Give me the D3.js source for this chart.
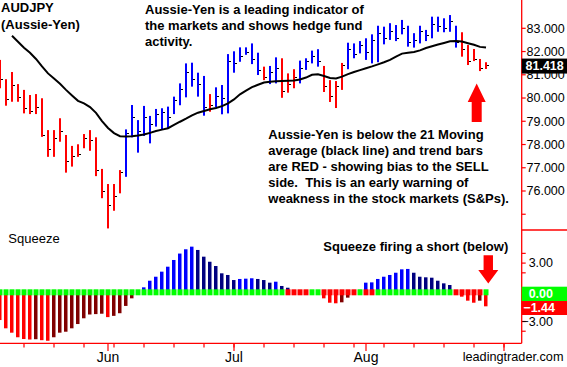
<!DOCTYPE html>
<html>
<head>
<meta charset="utf-8">
<script src="https://cdn.jsdelivr.net/npm/d3@7"></script>
<style>
  body { margin: 0; background: #fff; }
  svg { display: block; font-family: "Liberation Sans", Arial, sans-serif; }
</style>
</head>
<body>
<div id="chart"></div>
<script>
// AUDJPY daily bars, bar index 0 = first visible day
var highs = [81.64,80.81,81.12,80.60,80.35,80.13,80.17,79.99,78.62,78.62,
  79.13,78.41,77.94,78.01,78.45,78.62,78.31,76.95,76.30,76.30,
  76.90,78.65,79.70,79.05,79.66,79.23,79.53,79.56,79.63,80.06,
  80.63,81.49,81.52,81.09,80.95,80.17,80.46,80.56,81.89,82.01,
  82.18,82.18,82.35,81.95,81.35,81.38,81.75,81.71,81.06,81.24,
  81.61,81.71,82.04,82.10,81.38,80.77,80.73,81.51,82.38,82.35,
  82.45,82.57,82.74,83.11,83.07,83.22,83.14,83.36,83.11,82.79,
  83.11,82.93,83.50,83.50,83.43,83.57,83.11,82.83,82.28,82.11,
  81.68,81.54];
var lows = [80.42,79.67,79.84,79.84,79.34,79.31,79.31,78.33,77.47,77.47,
  78.12,76.79,77.05,77.47,77.84,77.73,76.64,75.69,74.39,75.15,
  75.90,76.61,78.31,77.65,78.37,78.05,78.77,78.65,78.68,79.31,
  79.69,80.03,80.49,80.06,79.24,79.41,79.60,79.30,79.34,81.09,
  81.56,81.86,81.46,80.99,80.77,80.60,80.63,80.01,80.23,80.42,
  80.63,81.21,81.49,81.35,80.26,79.83,79.57,80.35,81.24,81.71,
  81.92,81.64,81.49,81.54,82.31,82.50,82.45,82.74,82.21,82.17,
  82.35,82.45,82.57,82.85,82.83,82.85,82.17,81.78,81.42,81.59,
  81.16,81.25];
var closes = [80.81,79.95,80.55,80.06,79.55,79.45,79.60,78.40,77.80,78.30,
  78.60,77.30,77.50,77.60,78.30,78.20,76.90,76.00,75.40,75.80,
  76.80,78.50,79.20,78.60,79.20,78.90,79.30,79.40,79.20,79.90,
  80.40,81.10,80.80,80.60,79.60,79.70,80.10,80.00,81.60,81.50,
  81.80,82.00,81.70,81.20,80.90,81.10,81.30,80.30,80.60,80.90,
  81.30,81.60,81.80,81.60,80.50,80.10,80.50,81.40,82.10,81.90,
  82.30,82.00,82.50,82.80,82.60,82.90,82.60,83.00,82.40,82.50,
  82.90,82.70,83.20,83.10,83.00,83.30,82.40,82.10,81.60,81.70,
  81.30,81.418];
// 1 = up trend (blue bar), -1 = down trend (red bar)
var trend = [-1,-1,-1,-1,-1,-1,-1,-1,-1,-1,-1,-1,-1,-1,-1,-1,-1,-1,-1,-1,-1,
  1,1,1,1,1,1,1,1,1,1,1,1,1,1,-1,1,1,1,1,1,1,1,1,-1,1,1,-1,-1,-1,
  1,1,1,1,-1,-1,-1,-1,1,1,1,1,1,1,1,1,1,1,1,1,1,1,1,1,1,1,1,-1,-1,-1,-1,-1];
// 21 period moving average, starts at bar 2
var maStart = 2;
var ma21 = [82.68,82.42,82.16,81.95,81.68,81.36,81.06,80.84,80.61,80.35,
  80.11,79.88,79.77,79.61,79.36,79.01,78.71,78.49,78.36,78.34,
  78.36,78.39,78.43,78.50,78.58,78.64,78.70,78.84,78.98,79.11,
  79.25,79.37,79.44,79.52,79.57,79.65,79.77,79.94,80.16,80.32,
  80.47,80.57,80.67,80.70,80.72,80.73,80.74,80.75,80.80,80.88,
  81.00,81.02,80.95,80.86,80.84,80.92,81.03,81.12,81.20,81.28,
  81.36,81.45,81.54,81.64,81.78,81.91,81.95,81.98,82.05,82.15,
  82.23,82.30,82.37,82.44,82.45,82.43,82.36,82.29,82.20,82.17];
// squeeze momentum histogram
var squeeze = [-2.85,-3.70,-4.15,-4.62,-4.80,-4.85,-4.82,-4.92,-4.98,-4.62,
  -4.15,-4.05,-3.70,-3.26,-2.67,-2.28,-2.24,-2.20,-2.55,-2.42,
  -2.15,-1.40,-0.62,-0.05,0.51,1.19,1.60,2.12,2.63,3.32,
  3.98,4.42,4.69,4.35,3.66,3.14,2.70,1.95,1.78,1.26,
  1.37,1.40,1.44,1.37,1.26,0.99,1.09,0.65,0.47,0.20,
  0.10,-0.10,-0.25,-0.20,-0.62,-1.07,-1.13,-1.03,-0.55,-0.20,
  0.25,0.99,1.02,1.37,1.60,1.78,2.01,2.36,2.40,2.01,
  1.60,1.54,1.50,1.19,0.92,0.75,-0.20,-0.45,-0.86,-1.07,
  -0.86,-1.44];
// bars where the squeeze is on (red dot)
var squeezeOnBars = [48,49,50,51,54,55,56,57,58,59,61,62,76,77,78,79,80];

var weekTicks = [4,9,14,19,24,29,34,39,44,49,54,59,64,69,74,79,84];
var monthTicks = [18,39,61,84];
var monthLabels = ["Jun","Jul","Aug",""];
var priceTicks = [75,76,77,78,79,80,81,82,83];
var priceLabeled = [76,77,78,79,80,81,82,83];
var lastPrice = 81.418;
var sqTicks = [4,3,2,-3,-4];
var sqLabeled = [3,-3];
var sqLast = -1.44;

var W = 567, H = 367, axisX = 521.7;

var svg = d3.select("#chart").append("svg")
  .attr("width", W).attr("height", H);

var x = d3.scaleLinear().domain([0, 87]).range([0, 522]);
var yP = d3.scaleLinear().domain([76, 83]).range([191, 28.3]);
var yS = d3.scaleLinear().domain([-3, 3]).range([321.5, 263.1]);

var plot = svg.append("g");
plot.append("clipPath").attr("id", "clip")
  .append("rect").attr("x", 0).attr("y", 0).attr("width", axisX).attr("height", 343);
var g = plot.append("g").attr("clip-path", "url(#clip)");

// ---- price bars
var idx = d3.range(highs.length);
g.selectAll(".bar").data(idx).enter().append("rect")
  .attr("class", "bar")
  .attr("x", function(i) { return x(i) - 1; })
  .attr("width", 2)
  .attr("y", function(i) { return yP(highs[i]); })
  .attr("height", function(i) { return yP(lows[i]) - yP(highs[i]); })
  .style("fill", function(i) { return trend[i] > 0 ? "#0000ff" : "#ff0000"; });

g.selectAll(".close").data(idx).enter().append("rect")
  .attr("class", "close")
  .attr("x", function(i) { return x(i) + 1; })
  .attr("width", 2)
  .attr("y", function(i) { return Math.round(yP(closes[i])); })
  .attr("height", 1)
  .style("fill", "#000");

// ---- moving average
var line = d3.line()
  .x(function(d, i) { return x(i + maStart); })
  .y(function(d) { return yP(d); });
g.append("path").datum(ma21)
  .attr("d", line)
  .style("fill", "none")
  .style("stroke", "#000")
  .style("stroke-width", 2);

// ---- squeeze histogram
var zeroY = yS(0);
g.selectAll(".hist").data(idx).enter().append("rect")
  .attr("class", "hist")
  .attr("x", function(i) { return x(i) - 2; })
  .attr("width", 3.5)
  .attr("y", function(i) { return Math.min(yS(squeeze[i]), zeroY); })
  .attr("height", function(i) { return Math.abs(yS(squeeze[i]) - zeroY); })
  .style("fill", function(i) {
    var v = squeeze[i], p = i > 0 ? squeeze[i - 1] : 0;
    if (v >= 0) return v > p ? "#0000ff" : "#000080";
    return v < p ? "#ff0000" : "#800000";
  });

g.selectAll(".dot").data(idx).enter().append("rect")
  .attr("class", "dot")
  .attr("x", function(i) { return x(i) - 2.5; })
  .attr("width", 5)
  .attr("y", zeroY - 3)
  .attr("height", 6)
  .style("fill", function(i) { return squeezeOnBars.indexOf(i) >= 0 ? "#ff0000" : "#00ff00"; });

// ---- frame lines
var red = "#ff0000";
svg.append("line").attr("x1", axisX).attr("x2", axisX).attr("y1", 0).attr("y2", 343.3)
  .style("stroke", red).style("stroke-width", 1.3);
svg.append("line").attr("x1", 0).attr("x2", axisX).attr("y1", 343.3).attr("y2", 343.3)
  .style("stroke", red).style("stroke-width", 1.3);
svg.append("line").attr("x1", axisX).attr("x2", W).attr("y1", 230).attr("y2", 230)
  .style("stroke", red).style("stroke-width", 1.3);

// ---- x axis
svg.selectAll(".wk").data(weekTicks).enter().append("line")
  .attr("x1", function(d) { return x(d); }).attr("x2", function(d) { return x(d); })
  .attr("y1", 343.3).attr("y2", 347.5)
  .style("stroke", red).style("stroke-width", 1.2);
svg.selectAll(".mo").data(monthTicks).enter().append("line")
  .attr("x1", function(d) { return x(d); }).attr("x2", function(d) { return x(d); })
  .attr("y1", 343.3).attr("y2", 351)
  .style("stroke", red).style("stroke-width", 1.2);
svg.selectAll(".molab").data(monthTicks).enter().append("text")
  .attr("x", function(d) { return x(d); })
  .attr("y", 361.5)
  .style("text-anchor", "middle")
  .style("font-size", "14px")
  .style("fill", "#000")
  .text(function(d, i) { return monthLabels[i]; });
svg.append("text").attr("x", 563.5).attr("y", 361)
  .style("text-anchor", "end").style("font-size", "12.7px").style("fill", "#000")
  .text("leadingtrader.com");

// ---- price axis
svg.selectAll(".pt").data(priceTicks).enter().append("line")
  .attr("x1", axisX).attr("x2", axisX + 4)
  .attr("y1", function(d) { return yP(d); }).attr("y2", function(d) { return yP(d); })
  .style("stroke", red).style("stroke-width", 1.2);
svg.selectAll(".pl").data(priceLabeled).enter().append("text")
  .attr("x", 526.5)
  .attr("y", function(d) { return yP(d); })
  .attr("dy", ".35em")
  .style("font-size", "12.5px")
  .style("fill", "#000")
  .text(function(d) { return d3.format(".3f")(d); });
svg.append("rect").attr("x", axisX).attr("y", yP(lastPrice) - 6.5)
  .attr("width", W - axisX).attr("height", 15).style("fill", "#000");
svg.append("text").attr("x", 525.5).attr("y", yP(lastPrice) + 1)
  .attr("dy", ".35em")
  .style("font-size", "12.5px").style("font-weight", "bold").style("fill", "#fff")
  .text(d3.format(".3f")(lastPrice));

// ---- squeeze axis
svg.selectAll(".st").data(sqTicks).enter().append("line")
  .attr("x1", axisX).attr("x2", axisX + 4)
  .attr("y1", function(d) { return yS(d); }).attr("y2", function(d) { return yS(d); })
  .style("stroke", red).style("stroke-width", 1.2);
svg.selectAll(".sl").data(sqLabeled).enter().append("text")
  .attr("x", 553)
  .attr("y", function(d) { return yS(d); })
  .attr("dy", ".35em")
  .style("text-anchor", "end")
  .style("font-size", "12.5px")
  .style("fill", "#000")
  .text(function(d) { return d3.format(".2f")(d); });
svg.append("rect").attr("x", axisX).attr("y", 286.7)
  .attr("width", W - axisX).attr("height", 14.3).style("fill", "#00ff00");
svg.append("text").attr("x", 553).attr("y", 294).attr("dy", ".35em")
  .style("text-anchor", "end").style("font-size", "12.5px").style("font-weight", "bold")
  .style("fill", "#fff").text(d3.format(".2f")(0));
svg.append("rect").attr("x", axisX).attr("y", 301)
  .attr("width", W - axisX).attr("height", 14).style("fill", "#ff0000");
svg.append("text").attr("x", 555).attr("y", 308).attr("dy", ".35em")
  .style("text-anchor", "end").style("font-size", "12.5px").style("font-weight", "bold")
  .style("fill", "#fff").text(d3.format(".2f")(sqLast));

// ---- annotations
function lines(xp, y0, step, arr, weight) {
  svg.append("g").selectAll("text").data(arr).enter().append("text")
    .attr("x", xp)
    .attr("y", function(d, i) { return y0 + step * i; })
    .style("font-size", "13px")
    .style("font-weight", weight)
    .style("fill", "#000")
    .style("white-space", "pre")
    .text(function(d) { return d; });
}
lines(1, 12, 16.5, ["AUDJPY", "(Aussie-Yen)"], "bold");
lines(145, 14, 16, ["Aussie-Yen is a leading indicator of",
  "the markets and shows hedge fund", "activity."], "bold");
lines(268.3, 139.4, 15.8, ["Aussie-Yen is below the 21 Moving",
  "average (black line) and trend bars",
  "are RED - showing bias to the SELL",
  "side.  This is an early warning of",
  "weakness in the stock markets (S&Ps)."], "bold");
lines(8.3, 242.5, 0, ["Squeeze"], "normal");
lines(323.3, 251, 0, ["Squeeze firing a short (below)"], "bold");

// ---- arrows
var ax = x(79.45);
svg.append("path")
  .attr("d", "M" + ax + "," + yP(80.63) + " L" + (ax + 9) + "," + yP(79.83) +
    " L" + (ax + 5) + "," + yP(79.83) + " L" + (ax + 5) + "," + yP(78.97) +
    " L" + (ax - 5) + "," + yP(78.97) + " L" + (ax - 5) + "," + yP(79.83) +
    " L" + (ax - 9) + "," + yP(79.83) + " Z")
  .style("fill", "#ff0000");
var bx = x(81.38);
svg.append("path")
  .attr("d", "M" + bx + "," + yS(0.9) + " L" + (bx + 10) + "," + yS(2.3) +
    " L" + (bx + 4.7) + "," + yS(2.3) + " L" + (bx + 4.7) + "," + yS(3.8) +
    " L" + (bx - 4.7) + "," + yS(3.8) + " L" + (bx - 4.7) + "," + yS(2.3) +
    " L" + (bx - 10) + "," + yS(2.3) + " Z")
  .style("fill", "#ff0000");
</script>
</body>
</html>
